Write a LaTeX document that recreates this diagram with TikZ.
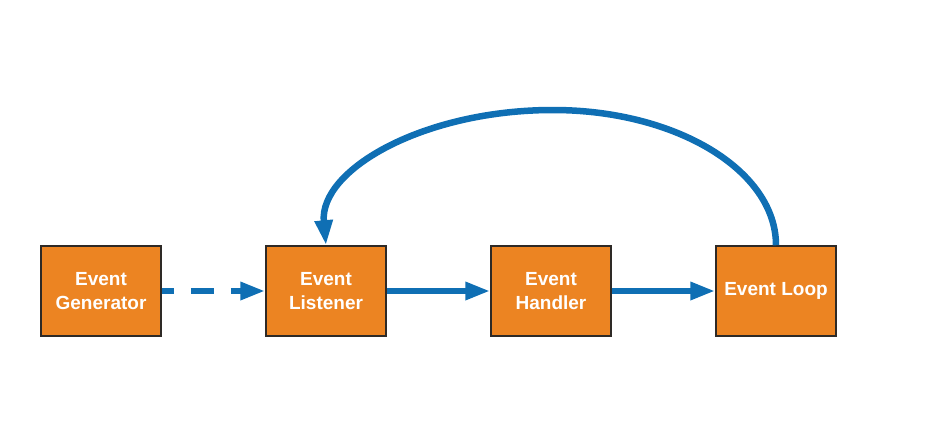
\documentclass[tikz,border=0pt]{standalone}
\usepackage{fontspec}
\setmainfont{Liberation Sans}
\usetikzlibrary{arrows.meta,calc}
\definecolor{boxfill}{HTML}{EC8422}
\definecolor{boxline}{HTML}{2E2A26}
\definecolor{arrowblue}{HTML}{0F6FB4}
\tikzset{
  evbox/.style={draw=boxline, line width=1.5pt, fill=boxfill, minimum width=120pt, minimum height=90pt,
    inner sep=0pt, align=center, text=white, font=\fontsize{19}{23.5}\selectfont\bfseries},
  flow/.style={draw=arrowblue, line width=6.5pt, -{Triangle[length=25pt,width=17pt]}}
}
\begin{document}
\begin{tikzpicture}[x=1pt,y=-1pt]
\useasboundingbox (0,0) rectangle (940,436);
\node[evbox] (gen) at (101,291) {Event\\Generator};
\node[evbox] (lis) at (326,291) {Event\\Listener};
\node[evbox] (han) at (551,291) {Event\\Handler};
\node[evbox] (loop) at (776,291) {Event Loop};
\coordinate (peak) at (553,110);
\draw[flow, dash pattern=on 23pt off 17pt, dash phase=11pt] (gen.east) -- (lis.west);
\draw[flow] (lis.east) -- (han.west);
\draw[flow] (han.east) -- (loop.west);
\draw[flow] (loop.north) .. controls ($(loop.north)+(0,-75)$) and (676,110) .. (peak)
  .. controls (423,110) and (319,170) .. (lis.north);
\end{tikzpicture}
\end{document}
